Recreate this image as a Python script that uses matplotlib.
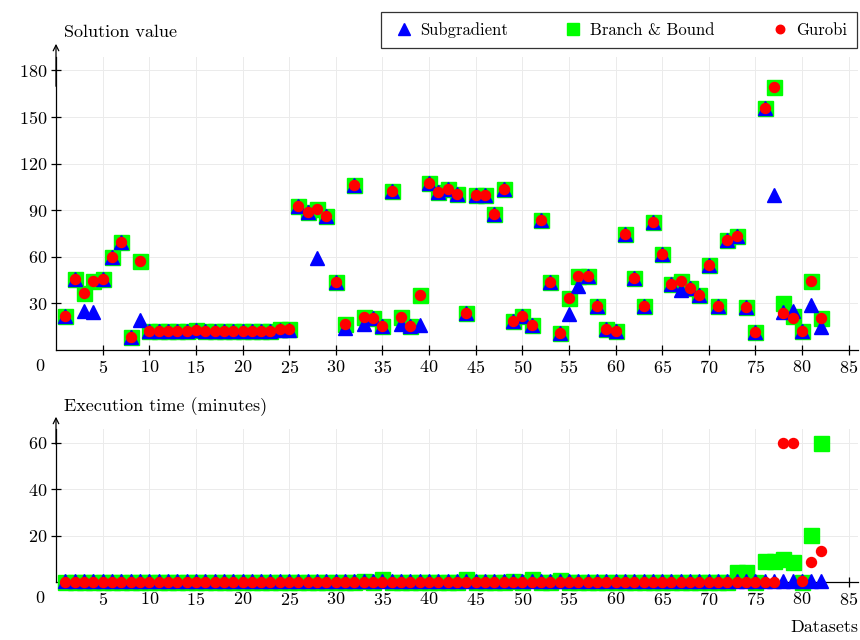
import matplotlib
matplotlib.use("Agg")
import matplotlib.pyplot as plt

plt.rcParams['font.family'] = ['cmr10', 'DejaVu Serif']
plt.rcParams['axes.formatter.use_mathtext'] = True

datasets = list(range(1, 83))

# Solution value per dataset
gurobi_sol = [22, 46, 37, 44.5, 45.5, 60, 69.5, 8.5, 57.5,
              12, 12, 12, 12, 12, 13, 12, 12, 12, 12, 12, 12, 12, 12,
              13.5, 13.5,
              92.5, 89, 91, 86.5, 43.5, 16.5, 106.5, 21.5, 20.5, 15.5,
              102.5, 21.5, 15.5, 35.5, 107.5, 101.5, 103.5, 100.5, 23.5, 99.5,
              99.5, 87.5, 103.5, 18.5, 22, 16, 83.5, 44, 11, 33.5,
              47.5, 47.5, 28.5, 13.5, 12.5, 74.5, 46.5, 28.5, 82.5, 62,
              42.5, 44.5, 40, 35.5, 54.5, 28.5, 70.5, 73.5, 27.5, 11.5,
              155.5, 169.5, 23.5, 20.5, 12, 44.5, 20.5]
bb_sol = list(gurobi_sol)
bb_sol[77] = 30
bb_sol[78] = 22
sub_sol = list(gurobi_sol)
for i, v in {3: 25, 4: 24.5, 9: 19.5, 24: 13, 25: 13, 28: 59, 31: 14, 33: 16.5,
             37: 16.5, 39: 16, 55: 23, 56: 41, 67: 38.5, 77: 100, 78: 24.5,
             79: 25, 81: 29, 82: 15}.items():
    sub_sol[i - 1] = v

# Execution time (minutes)
sub_time = [0.5] * 82
gurobi_time = [0.2] * 82
for i, v in {78: 60, 79: 60, 80: 0.4, 81: 8.8, 82: 13.5}.items():
    gurobi_time[i - 1] = v
bb_time = [0.1] * 82
for i, v in {33: 0.5, 35: 1.1, 44: 1.5, 49: 0.5, 51: 1.1, 54: 0.8, 73: 4.5, 74: 4.5,
             75: 0, 76: 9.2, 77: 9.2, 78: 10, 79: 8.5, 80: 0, 81: 20.3, 82: 60}.items():
    bb_time[i - 1] = v

fig = plt.figure(figsize=(8.6, 6.4), dpi=100)
ax1 = fig.add_axes([56 / 860, 1 - 350 / 640, 802 / 860, 293 / 640])
ax2 = fig.add_axes([56 / 860, 1 - 582 / 640, 802 / 860, 153 / 640])


def draw(ax, sub, bb, gur):
    ax.plot(datasets, bb, 's', color='#00ff00', markersize=10.8, zorder=3,
            clip_on=False, label='Branch & Bound')
    ax.plot(datasets, sub, '^', color='blue', markersize=9.5, zorder=4,
            clip_on=False, label='Subgradient')
    ax.plot(datasets, gur, 'o', color='red', markersize=7.2, zorder=5,
            clip_on=False, label='Gurobi')
    ax.set_xlim(0, 86)
    ax.set_xticks(range(5, 86, 5))
    for s in ['top', 'right']:
        ax.spines[s].set_visible(False)
    for s in ['left', 'bottom']:
        ax.spines[s].set_linewidth(0.9)
    ax.tick_params(direction='inout', length=7, width=0.9, labelsize=13, pad=3)
    ax.grid(True, color='#ebebeb', lw=0.7)
    ax.set_axisbelow(True)


draw(ax1, sub_sol, bb_sol, gurobi_sol)
ax1.set_ylim(0, 188.6)
ax1.set_yticks(range(30, 181, 30))
ax1.annotate('', xy=(0, 1.045), xytext=(0, 0.9), xycoords='axes fraction',
             arrowprops=dict(arrowstyle='->', lw=0.9, color='black', shrinkA=0, shrinkB=0))

draw(ax2, sub_time, bb_time, gurobi_time)
ax2.set_ylim(0, 66)
ax2.set_yticks([20, 40, 60])
ax2.annotate('', xy=(0, 1.08), xytext=(0, 0.9), xycoords='axes fraction',
             arrowprops=dict(arrowstyle='->', lw=0.9, color='black', shrinkA=0, shrinkB=0))

fig.text(64 / 860, 1 - 32 / 640, 'Solution value', fontsize=13, va='center', ha='left')
fig.text(64 / 860, 1 - 407 / 640, 'Execution time (minutes)', fontsize=13, va='center', ha='left')
fig.text(858 / 860, 1 - 627 / 640, 'Datasets', fontsize=13, va='center', ha='right')
fig.text(40 / 860, 1 - 366 / 640, '0', fontsize=13, va='center', ha='center')
fig.text(40 / 860, 1 - 598 / 640, '0', fontsize=13, va='center', ha='center')

h, l = ax1.get_legend_handles_labels()
order = [1, 0, 2]
leg = fig.legend([h[i] for i in order], [l[i] for i in order], ncol=3,
                 loc='center', bbox_to_anchor=(619 / 860, 1 - 30 / 640),
                 fontsize=12, frameon=True, fancybox=False, edgecolor='black',
                 columnspacing=3.1, handletextpad=0.2, handlelength=1.6,
                 borderpad=0.6, borderaxespad=0, markerscale=0.85)
leg.get_frame().set_linewidth(0.9)

fig.savefig('out.png', dpi=100)
